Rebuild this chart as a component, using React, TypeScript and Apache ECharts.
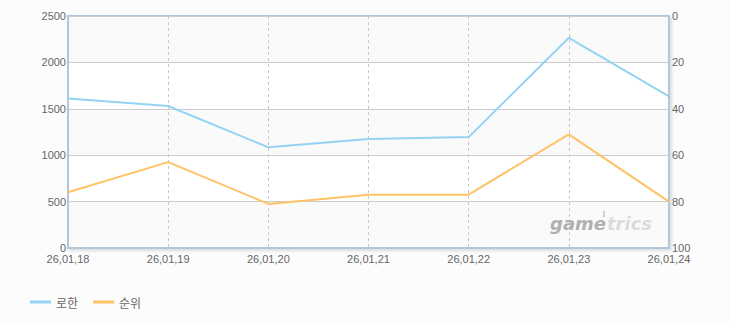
import React, { useEffect, useRef } from "react";
import * as echarts from "echarts";

const categories = ["26,01,18", "26,01,19", "26,01,20", "26,01,21", "26,01,22", "26,01,23", "26,01,24"];
const rohanValues = [1610, 1530, 1085, 1175, 1195, 2265, 1635];
const rankValues = [76, 63, 81, 77, 77, 51, 80];
const leftTicks = { min: 0, max: 2500, interval: 500 };
const rightTicks = { min: 0, max: 100, interval: 20 };
const seriesNames = ["로한", "순위"];

const FONT = "'Liberation Sans', 'Noto Sans CJK KR', sans-serif";

export default function App() {
  const ref = useRef<HTMLDivElement>(null);
  useEffect(() => {
    if (!ref.current) return;
    const chart = echarts.init(ref.current, undefined, { renderer: "svg" });
    chart.setOption({
      animation: false,
      backgroundColor: "#fcfcfc",
      grid: {
        left: 68,
        right: 61,
        top: 16,
        bottom: 77,
        show: true,
        borderColor: "#b4c6da",
        borderWidth: 2,
        backgroundColor: "#fcfcfc",
        shadowColor: "rgba(0,0,0,0.12)",
        shadowBlur: 3,
        shadowOffsetX: 2,
        shadowOffsetY: 2,
      },
      legend: {
        left: 25,
        top: 291,
        icon: "rect",
        itemWidth: 21,
        itemHeight: 3,
        itemGap: 15,
        textStyle: { color: "#666", fontSize: 12, fontFamily: "'Noto Sans CJK KR', sans-serif" },
        data: seriesNames,
      },
      xAxis: {
        type: "category",
        data: categories,
        boundaryGap: false,
        axisLine: { lineStyle: { color: "#b4c6da", width: 2 } },
        axisTick: { show: false },
        axisLabel: { color: "#666", fontSize: 11, fontFamily: FONT, margin: 5 },
        splitLine: { show: true, lineStyle: { color: "#c8c8c8", type: [3, 3], width: 1 } },
      },
      yAxis: [
        {
          type: "value",
          min: leftTicks.min,
          max: leftTicks.max,
          interval: leftTicks.interval,
          axisLine: { show: true, lineStyle: { color: "#b4c6da", width: 2 } },
          axisTick: { show: false },
          axisLabel: { color: "#666", fontSize: 11, fontFamily: FONT, margin: 2, formatter: (v: number) => String(v) },
          splitLine: { show: true, lineStyle: { color: "#cccccc", width: 1 } },
          splitArea: { show: true, areaStyle: { color: ["#fafafa", "#ffffff"] } },
        },
        {
          type: "value",
          inverse: true,
          min: rightTicks.min,
          max: rightTicks.max,
          interval: rightTicks.interval,
          axisLine: { show: true, lineStyle: { color: "#b4c6da", width: 2 } },
          axisTick: { show: false },
          axisLabel: { color: "#666", fontSize: 11, fontFamily: FONT, margin: 3, formatter: (v: number) => String(v) },
          splitLine: { show: false },
        },
      ],
      graphic: [
        {
          type: "text",
          left: 550,
          top: 214,
          z: 1,
          style: {
            text: "game",
            fill: "#b0b0b0",
            font: "italic bold 18px 'DejaVu Sans', sans-serif",
          },
        },
        {
          type: "text",
          left: 607,
          top: 214,
          z: 1,
          style: {
            text: "trics",
            fill: "#dcdcdc",
            font: "italic bold 18px 'DejaVu Sans', sans-serif",
          },
        },
        {
          type: "rect",
          left: 603,
          top: 211,
          z: 1,
          shape: { width: 2, height: 6 },
          style: { fill: "#cfcfcf" },
        },
      ],
      series: [
        {
          name: seriesNames[0],
          type: "line",
          yAxisIndex: 0,
          data: rohanValues,
          showSymbol: false,
          symbol: "none",
          lineStyle: { color: "#94d3f3", width: 2 },
          itemStyle: { color: "#94d3f3" },
          z: 3,
        },
        {
          name: seriesNames[1],
          type: "line",
          yAxisIndex: 1,
          data: rankValues,
          showSymbol: false,
          symbol: "none",
          lineStyle: { color: "#ffc266", width: 2 },
          itemStyle: { color: "#ffc266" },
          z: 3,
        },
      ],
    });
    return () => chart.dispose();
  }, []);
  return (
    <div
      ref={ref}
      style={{ position: "fixed", left: 0, top: 0, width: 730, height: 325, background: "#fcfcfc" }}
    />
  );
}
